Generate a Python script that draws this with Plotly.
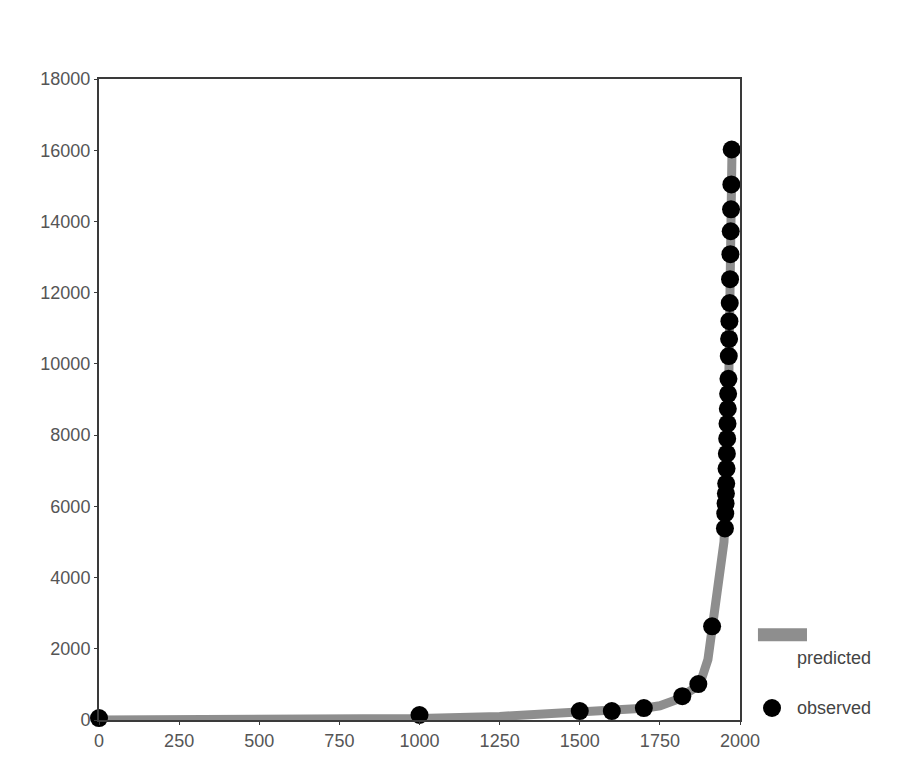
import plotly.graph_objects as go

# Observed data (year, value)
obs_years = [0, 1000, 1500, 1600, 1700, 1820, 1870, 1913,
             1953, 1954, 1955, 1956, 1957, 1958, 1959, 1960, 1961, 1962, 1963,
             1964, 1965, 1966, 1967, 1968, 1969, 1970, 1971, 1972]
obs_values = [55, 140, 250, 250, 335, 670, 1010, 2630,
              5380, 5800, 6080, 6360, 6640, 7060, 7480, 7900, 8320, 8740, 9160,
              9580, 10220, 10700, 11200, 11710, 12380, 13080, 13725, 14340]
obs_years += [1973, 1974]
obs_values += [15040, 16020]

# Predicted curve
pred_years = [0, 250, 500, 750, 1000, 1250, 1500, 1600, 1700, 1750, 1800, 1850,
              1880, 1900, 1913, 1925, 1935, 1945, 1950, 1955, 1960, 1965, 1970, 1975]
pred_values = [0, 0, 10, 20, 40, 100, 200, 260, 330, 400, 560, 850,
               1150, 1700, 2550, 3100, 3700, 4400, 5000, 6000, 7500, 9500, 12800, 16000]

x_ticks = [0, 250, 500, 750, 1000, 1250, 1500, 1750, 2000]
y_ticks = [0, 2000, 4000, 6000, 8000, 10000, 12000, 14000, 16000, 18000]

FONT = "Liberation Sans, Arial, sans-serif"
GREY = "#8e8e8e"

fig = go.Figure()
fig.add_trace(go.Scatter(
    x=pred_years, y=pred_values, mode="lines", name="predicted",
    line=dict(color=GREY, width=9), cliponaxis=False, showlegend=False))
fig.add_trace(go.Scatter(
    x=obs_years, y=obs_values, mode="markers", name="observed",
    marker=dict(color="black", size=18), cliponaxis=False, showlegend=False))

axis_common = dict(
    showgrid=False, zeroline=False, showline=True, linecolor="#3a3a3a", linewidth=2,
    mirror=True, ticks="outside", ticklen=3, tickcolor="#3a3a3a",
    tickfont=dict(family=FONT, size=18, color="#555555"))

fig.update_xaxes(range=[0, 2000], tickvals=x_ticks, ticktext=[str(v) for v in x_ticks], **axis_common)
fig.update_yaxes(range=[0, 18000], tickvals=y_ticks, ticktext=[str(v) for v in y_ticks], **axis_common)

# Manual legend (outside the plot, right side)
fig.add_shape(type="rect", xref="paper", yref="paper",
              x0=1.028, x1=1.1045, y0=0.1229, y1=0.1431,
              fillcolor=GREY, line=dict(width=0))
fig.add_shape(type="circle", xref="paper", yref="paper",
              x0=1.0359, x1=1.0640, y0=0.0047, y1=0.0327,
              fillcolor="black", line=dict(width=0))
fig.add_annotation(text="predicted", xref="paper", yref="paper", x=1.0858, y=0.0964,
                   xanchor="left", yanchor="middle", showarrow=False,
                   font=dict(family=FONT, size=18, color="#444444"))
fig.add_annotation(text="observed", xref="paper", yref="paper", x=1.0858, y=0.0187,
                   xanchor="left", yanchor="middle", showarrow=False,
                   font=dict(family=FONT, size=18, color="#444444"))

fig.update_layout(
    width=901, height=755,
    margin=dict(l=91, r=169, t=71, b=41),
    paper_bgcolor="white", plot_bgcolor="white",
    showlegend=False,
)

fig.write_html("out.html")
